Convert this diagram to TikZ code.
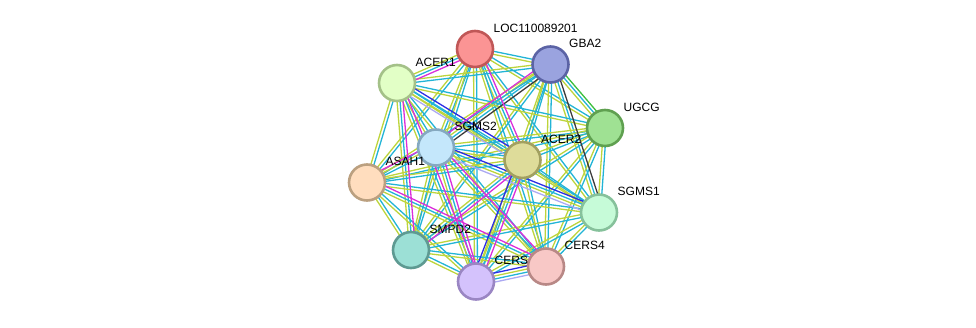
\documentclass[tikz,border=0pt]{standalone}
\usepackage{fontspec}
\setmainfont{Liberation Sans}
\usetikzlibrary{calc,backgrounds}
\definecolor{dbcyan}{HTML}{22B4D6}
\definecolor{txtyel}{HTML}{BDD43C}
\definecolor{expmag}{HTML}{DA2EDA}
\definecolor{coexbk}{HTML}{3C3C3C}
\definecolor{coocbl}{HTML}{2C2CE4}
\definecolor{homlav}{HTML}{ACA9F2}
\definecolor{nbgrn}{HTML}{3CBF3C}
\tikzset{
  prot/.style={circle,draw,line width=2.6pt,minimum size=36pt,inner sep=0pt},
  lbl/.style={anchor=west,inner sep=0pt,font=\fontsize{12}{14}\selectfont},
  lnk/.style={line width=1.3pt},
  ploc/.style={fill={rgb,255:red,251;green,148;blue,148},draw={rgb,255:red,192;green,87;blue,87}},
  pgba/.style={fill={rgb,255:red,154;green,163;blue,223},draw={rgb,255:red,91;green,99;blue,165}},
  pacera/.style={fill={rgb,255:red,226;green,255;blue,198},draw={rgb,255:red,164;green,193;blue,136}},
  pugcg/.style={fill={rgb,255:red,159;green,225;blue,147},draw={rgb,255:red,95;green,160;blue,80}},
  psgmsb/.style={fill={rgb,255:red,196;green,231;blue,251},draw={rgb,255:red,133;green,169;blue,192}},
  pacerb/.style={fill={rgb,255:red,222;green,220;blue,154},draw={rgb,255:red,162;green,160;blue,96}},
  pasah/.style={fill={rgb,255:red,255;green,221;blue,190},draw={rgb,255:red,187;green,160;blue,128}},
  psgmsa/.style={fill={rgb,255:red,198;green,251;blue,216},draw={rgb,255:red,134;green,193;blue,155}},
  psmpd/.style={fill={rgb,255:red,156;green,224;blue,214},draw={rgb,255:red,94;green,154;blue,146}},
  pcersd/.style={fill={rgb,255:red,248;green,200;blue,198},draw={rgb,255:red,184;green,136;blue,134}},
  pcers/.style={fill={rgb,255:red,212;green,194;blue,252},draw={rgb,255:red,154;green,134;blue,195}}
}
\newcommand{\lnkline}[4]{\draw[lnk,#4] ($(#1.center)!#3pt!90:(#2.center)$) -- ($(#2.center)!#3pt!-90:(#1.center)$);}
\newcommand{\protnode}[5]{%
  \node[prot,#4] (#1) at (#2,#3) {};
  \node[lbl] (#1-lbl) at (#2+18.5,#3-21) {#5};}

\begin{document}
\begin{tikzpicture}[x=1pt,y=-1pt]
\useasboundingbox (0,0) rectangle (976,327);
% proteins
\protnode{loc}{475}{49}{ploc}{LOC110089201}
\protnode{gba2}{550.5}{64.5}{pgba}{GBA2}
\protnode{acer1}{397}{83}{pacera}{ACER1}
\protnode{ugcg}{605}{128}{pugcg}{UGCG}
\protnode{sgms2}{436}{147.5}{psgmsb}{SGMS2}
\protnode{acer2}{522.5}{160}{pacerb}{ACER2}
\protnode{asah1}{367}{182.5}{pasah}{ASAH1}
\protnode{sgms1}{599}{212.5}{psgmsa}{SGMS1}
\protnode{smpd2}{411}{250}{psmpd}{SMPD2}
\protnode{cers4}{546}{266.5}{pcersd}{CERS4}
\protnode{cers}{476}{281.5}{pcers}{CERS}
% links
\begin{pgfonlayer}{background}
\foreach \a [count=\i] in {loc,gba2,acer1,ugcg,sgms2,acer2,asah1,sgms1,smpd2,cers4,cers}{
  \foreach \b [count=\j] in {loc,gba2,acer1,ugcg,sgms2,acer2,asah1,sgms1,smpd2,cers4,cers}{
    \ifnum\j>\i
      \lnkline{\a}{\b}{1.5}{dbcyan}
      \lnkline{\a}{\b}{-1.5}{txtyel}
    \fi
  }
}
\foreach \a/\b/\o/\c in {acer1/acer2/4.5/coocbl, acer1/acer2/-4.5/homlav,
    sgms2/sgms1/4.5/coocbl, sgms2/sgms1/-4.5/homlav,
    cers/cers4/4.5/coocbl, cers/cers4/-4.5/homlav,
    gba2/sgms2/4.5/coexbk, gba2/sgms2/-4.5/expmag,
    gba2/sgms1/4.5/coexbk, gba2/ugcg/4.5/nbgrn,
    loc/acer1/4.5/expmag, loc/acer2/4.5/expmag,
    acer1/smpd2/4.5/expmag, acer1/cers/4.5/expmag,
    asah1/sgms2/4.5/expmag, asah1/cers4/4.5/expmag,
    sgms2/cers4/4.5/expmag, sgms2/cers/4.5/expmag,
    acer2/smpd2/4.5/expmag, acer2/cers/4.5/expmag, acer2/cers/-4.5/coocbl}{
  \lnkline{\a}{\b}{\o}{\c}
}
\end{pgfonlayer}
\end{tikzpicture}
\end{document}
